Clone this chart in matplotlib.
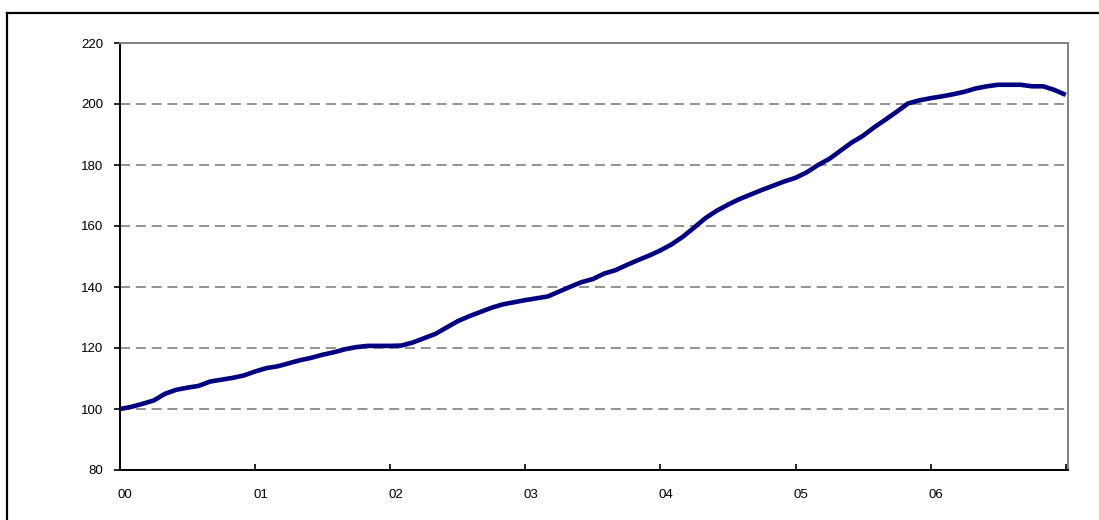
import matplotlib
matplotlib.use("Agg")
import matplotlib.pyplot as plt
from matplotlib.lines import Line2D
from matplotlib.transforms import ScaledTranslation

plt.rcParams['font.family'] = ['Liberation Sans', 'DejaVu Sans']

# Monthly index, Jan 2000 = 100 (Jan 2000 .. Jan 2007)
index_values = [
    100.0, 100.7, 101.7, 102.8, 105.0, 106.3, 107.0, 107.6, 109.0, 109.6, 110.2, 111.0,
    112.3, 113.4, 114.0, 115.0, 116.0, 116.8, 117.8, 118.6, 119.6, 120.3, 120.7, 120.7,
    120.7, 120.8, 121.8, 123.2, 124.6, 126.7, 128.8, 130.4, 131.8, 133.2, 134.3, 135.0,
    135.7, 136.3, 136.9, 138.5, 140.1, 141.6, 142.6, 144.4, 145.5, 147.2, 148.8, 150.3,
    152.0, 154.0, 156.5, 159.5, 162.6, 165.0, 167.0, 168.8, 170.3, 171.8, 173.2, 174.6,
    175.8, 177.6, 180.0, 182.0, 184.7, 187.4, 189.6, 192.4, 194.9, 197.5, 200.2, 201.2,
    201.9, 202.5, 203.2, 204.0, 205.1, 205.8, 206.3, 206.3, 206.3, 205.8, 205.8, 204.6,
    203.0,
]
year_labels = ["00", "01", "02", "03", "04", "05", "06"]
y_ticks = [80, 100, 120, 140, 160, 180, 200, 220]

W, H = 1099, 520
fig = plt.figure(figsize=(W / 100, H / 100), dpi=100)

# outer chart frame (top and left edges)
fig.add_artist(Line2D([7 / W, 7 / W], [1 - 12.5 / H, -0.05], color="black", lw=1.6,
                      transform=fig.transFigure))
fig.add_artist(Line2D([7 / W, 1.05], [1 - 12.5 / H, 1 - 12.5 / H], color="black", lw=1.6,
                      transform=fig.transFigure))

ax = fig.add_axes([120 / W, 1 - 470 / H, (1068 - 120) / W, (470 - 43) / H])

months = list(range(len(index_values)))
ax.plot(months, index_values, color="#000080", lw=3.3, solid_joinstyle="round",
        solid_capstyle="butt", zorder=3)

ax.set_xlim(0, 84.2)
ax.set_ylim(80, 220)

# horizontal dashed gridlines
for v in y_ticks[1:-1]:
    ax.axhline(v, color="#808080", lw=1.2, dashes=(6, 3.5), zorder=1)

ax.set_yticks(y_ticks)
ax.set_yticklabels([str(v) for v in y_ticks], fontsize=9.5)
ax.tick_params(axis="y", direction="out", length=4, width=1.2, pad=8, color="black")

ax.set_xticks([12 * i for i in range(8)])
ax.set_xticklabels(year_labels + [""], fontsize=9.5, ha="left")
ax.tick_params(axis="x", direction="in", length=4, width=1.2, pad=14, color="black")

offset = ScaledTranslation(-2 / 100, 0, fig.dpi_scale_trans)
for lbl in ax.get_xticklabels():
    lbl.set_transform(lbl.get_transform() + offset)

for side in ("left", "bottom"):
    ax.spines[side].set_color("black")
    ax.spines[side].set_linewidth(1.4)
for side in ("top", "right"):
    ax.spines[side].set_color("#808080")
    ax.spines[side].set_linewidth(1.4)

fig.savefig("out.png", dpi=100)
